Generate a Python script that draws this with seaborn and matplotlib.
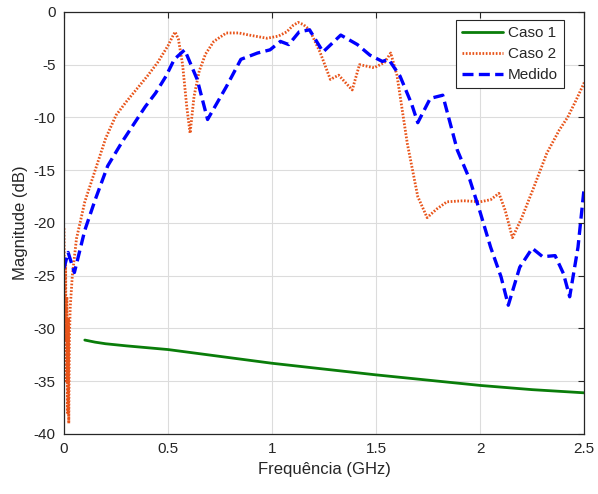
import numpy as np
import pandas as pd
import matplotlib
matplotlib.use("Agg")
import matplotlib.pyplot as plt
import seaborn as sns

# ---- data ----
caso1_f = [0.10, 0.15, 0.20, 0.30, 0.50, 0.75, 1.00, 1.25, 1.50, 1.75, 2.00, 2.25, 2.50]
caso1_db = [-31.1, -31.3, -31.45, -31.65, -32.0, -32.65, -33.3, -33.85, -34.4, -34.9, -35.4, -35.8, -36.1]

caso2_f = [0.000, 0.004, 0.008, 0.011, 0.014, 0.017, 0.020, 0.023, 0.026, 0.030, 0.040,
           0.060, 0.100, 0.150, 0.200, 0.250, 0.300, 0.350, 0.400, 0.450, 0.500, 0.520, 0.534,
           0.550, 0.570, 0.590, 0.606, 0.625, 0.650, 0.680, 0.720, 0.780, 0.840, 0.890, 0.975,
           1.030, 1.070, 1.100, 1.125, 1.150, 1.180, 1.230, 1.280, 1.320, 1.385, 1.420, 1.490,
           1.540, 1.570, 1.600, 1.650, 1.700, 1.745, 1.790, 1.840, 1.920, 2.000, 2.050, 2.090,
           2.120, 2.155, 2.200, 2.260, 2.320, 2.380, 2.420, 2.460, 2.500]
caso2_db = [-20.5, -31.0, -24.0, -35.0, -27.0, -38.0, -29.0, -39.0, -31.0, -28.0, -25.0,
            -21.5, -18.0, -15.0, -12.0, -9.8, -8.5, -7.3, -6.1, -4.8, -3.2, -2.4, -1.9,
            -2.6, -5.0, -9.0, -11.5, -8.0, -5.6, -4.0, -2.8, -2.0, -2.0, -2.2, -2.5,
            -2.3, -1.9, -1.3, -1.0, -1.2, -1.7, -3.8, -6.4, -6.0, -7.4, -5.0, -5.3,
            -4.8, -3.9, -6.0, -12.5, -17.5, -19.5, -18.7, -18.0, -17.9, -18.0, -17.8, -17.2,
            -18.8, -21.4, -19.5, -16.5, -13.4, -11.2, -10.0, -8.4, -6.7]

medido_f = [0.000, 0.020, 0.050, 0.100, 0.150, 0.210, 0.280, 0.340, 0.390, 0.440, 0.490,
            0.530, 0.580, 0.640, 0.690, 0.780, 0.850, 0.930, 0.990, 1.040, 1.080, 1.130,
            1.180, 1.245, 1.330, 1.410, 1.470, 1.530, 1.560, 1.615, 1.670, 1.700, 1.760,
            1.820, 1.890, 1.950, 2.000, 2.050, 2.100, 2.135, 2.190, 2.250, 2.300, 2.360,
            2.400, 2.430, 2.470, 2.500]
medido_db = [-24.3, -22.8, -24.7, -20.7, -17.8, -14.6, -12.3, -10.5, -9.0, -7.7, -6.1,
             -4.5, -3.6, -6.4, -10.2, -7.1, -4.5, -3.9, -3.6, -2.8, -3.1, -1.9,
             -1.7, -3.8, -2.2, -3.1, -4.1, -4.7, -4.5, -6.1, -8.7, -10.5, -8.2,
             -7.9, -13.1, -15.9, -19.0, -22.3, -25.1, -27.8, -24.2, -22.4, -23.2, -23.1,
             -24.8, -27.0, -22.3, -16.6]

series_names = ["Caso 1", "Caso 2", "Medido"]
x_ticks = [0, 0.5, 1, 1.5, 2, 2.5]
x_tick_labels = ["0", "0.5", "1", "1.5", "2", "2.5"]
y_ticks = [-40, -35, -30, -25, -20, -15, -10, -5, 0]

# ---- plot ----
sns.set_theme(style="white")
plt.rcParams["font.family"] = ["Liberation Sans", "DejaVu Sans"]
plt.rcParams["axes.unicode_minus"] = False

fig = plt.figure(figsize=(5.98, 4.94), dpi=100)
ax = fig.add_axes([0.107, 0.1215, 0.870, 0.8545])

df1 = pd.DataFrame({"f": caso1_f, "db": caso1_db})
df2 = pd.DataFrame({"f": caso2_f, "db": caso2_db})
df3 = pd.DataFrame({"f": medido_f, "db": medido_db})

sns.lineplot(data=df1, x="f", y="db", ax=ax, color="#0a7d0a", linewidth=2.0,
             label=series_names[0], estimator=None, sort=False)
sns.lineplot(data=df2, x="f", y="db", ax=ax, color="#e8541a", linewidth=2.0,
             label=series_names[1], estimator=None, sort=False)
ax.lines[-1].set_linestyle((0, (0.6, 0.6)))
sns.lineplot(data=df3, x="f", y="db", ax=ax, color="#0000ff", linewidth=2.4,
             label=series_names[2], estimator=None, sort=False)
ax.lines[-1].set_linestyle((0, (3.3, 1.6)))

ax.set_xlim(0, 2.5)
ax.set_ylim(-40, 0)
ax.set_xticks(x_ticks)
ax.set_xticklabels(x_tick_labels)
ax.set_yticks(y_ticks)
ax.grid(True, color="#dcdcdc", linewidth=0.8)
ax.set_axisbelow(True)
ax.tick_params(direction="in", top=True, right=True, length=4, width=0.8,
               labelsize=11, colors="#262626", pad=6)
for s in ax.spines.values():
    s.set_color("#262626")
    s.set_linewidth(0.9)

ax.set_xlabel("Frequência (GHz)", fontsize=12, color="#262626")
ax.set_ylabel("Magnitude (dB)", fontsize=12, color="#262626", labelpad=4)

leg = ax.legend(loc="upper right", bbox_to_anchor=(564 / 598, (494 - 20) / 494),
                bbox_transform=fig.transFigure, borderaxespad=0,
                fontsize=11, frameon=True, fancybox=False,
                edgecolor="#262626", framealpha=1, handlelength=2.7,
                borderpad=0.4, labelspacing=0.45, handletextpad=0.3)
leg.get_frame().set_linewidth(0.8)

fig.savefig("out.png", dpi=100)
